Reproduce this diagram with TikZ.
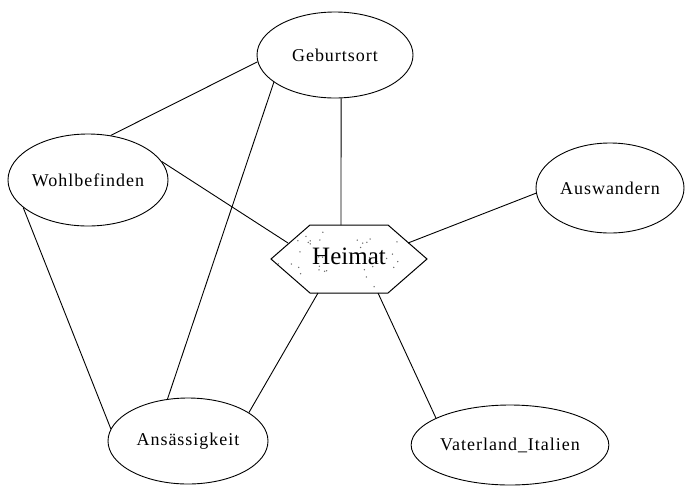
\documentclass[tikz,border=0pt]{standalone}
\usepackage{fontspec}
\setmainfont{Liberation Serif}
\newfontfamily\labelfont[LetterSpace=5.5]{Liberation Serif}
\usetikzlibrary{shapes.geometric}
\begin{document}
\begin{tikzpicture}[x=1pt,y=-1pt,
  concept/.style={draw, ellipse, line width=0.9pt, inner sep=0pt,
    font=\labelfont\fontsize{18}{20}\selectfont},
  link/.style={line width=0.9pt},
  hexfill/.style={draw, line width=1pt, fill=white}]
\useasboundingbox (0,0) rectangle (688,488);

% concept ellipses
\node[concept, minimum width=156pt, minimum height=86pt] (geb)  at (335,55)  {Geburtsort};
\node[concept, minimum width=160pt, minimum height=92pt] (wohl) at (88,180)  {Wohlbefinden};
\node[concept, minimum width=148pt, minimum height=90pt] (ausw) at (610,188) {Auswandern};
\node[concept, minimum width=160pt, minimum height=86pt] (ans)  at (188,441) {Ansässigkeit};
\node[concept, minimum width=156pt, minimum height=80pt] (vat)  at (510,445) {Vaterland\_Italien};

% central hexagon with a sparse stipple
\path[hexfill] (310,225) -- (388,225) -- (427,259) -- (388,293) -- (310,293) -- (271,259) -- cycle;
\begin{scope}
  \clip (310,225) -- (388,225) -- (427,259) -- (388,293) -- (310,293) -- (271,259) -- cycle;
  \pgfmathsetseed{11}
  \foreach \i in {1,...,45}{
    \pgfmathsetmacro{\px}{272+155*rnd}
    \pgfmathsetmacro{\py}{228+62*rnd}
    \fill[gray!80!black] (\px,\py) circle (0.75pt);
  }
\end{scope}
\node[font=\fontsize{25}{28}\selectfont, inner sep=0pt] (heimat) at (349,256) {Heimat};

% connector ends on the hexagon border
\coordinate (h-top)  at (341,225);
\coordinate (h-left) at (288,243);
\coordinate (h-right) at (408,243);
\coordinate (h-bl)   at (318,293);
\coordinate (h-br)   at (378,293);

% connectors
\draw[link] (geb.185)  -- (wohl.63);
\draw[link] (geb.278)  -- (h-top);
\draw[link] (geb.204)  -- (ans.116);
\draw[link] (wohl.14)  -- (h-left);
\draw[link] (wohl.203) -- (ans.171);
\draw[link] (h-right)  -- (ausw.184);
\draw[link] (h-bl)     -- (ans.25);
\draw[link] (h-br)     -- (vat.160);
\end{tikzpicture}
\end{document}
